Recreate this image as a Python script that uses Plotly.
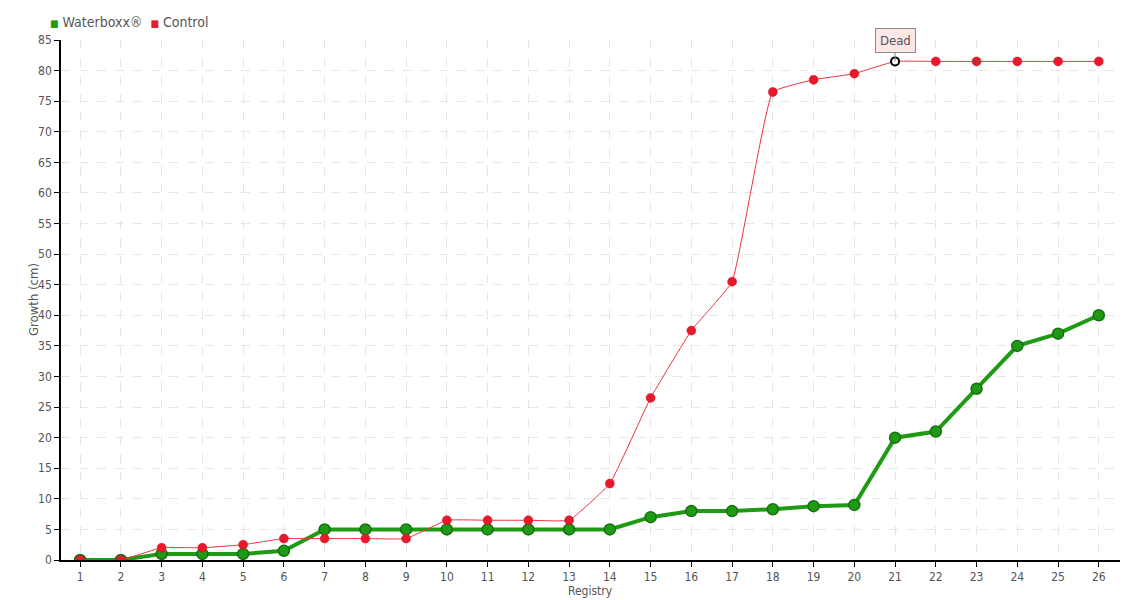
import plotly.graph_objects as go

registry = list(range(1, 27))
waterboxx = [0, 0, 1, 1, 1, 1.5, 5, 5, 5, 5, 5, 5, 5, 5, 7, 8, 8, 8.3, 8.8, 9, 20, 21, 28, 35, 37, 40]
control = [0, 0, 2, 2, 2.5, 3.5, 3.5, 3.5, 3.5, 6.5, 6.5, 6.5, 6.5, 12.5, 26.5, 37.5, 45.5, 76.5, 78.5, 79.5, 81.5, 81.5, 81.5, 81.5, 81.5, 81.5]
series_names = ["Waterboxx®", "Control"]
dead_index = 20

FONT = "DejaVu Sans Condensed"
GREEN = "#1f9a14"
RED = "#e8192c"

fig = go.Figure()
fig.add_trace(go.Scatter(
    x=registry, y=waterboxx, name=series_names[0], mode="lines+markers",
    line=dict(color=GREEN, width=4),
    marker=dict(size=11, color=GREEN, line=dict(color="#17700f", width=1.5)),
))
fig.add_trace(go.Scatter(
    x=registry, y=control, name=series_names[1], mode="lines",
    line=dict(color="#f0323f", width=1, shape="spline", smoothing=0.3),
))
normal_idx = [i for i in range(len(control)) if i != dead_index]
fig.add_trace(go.Scatter(
    x=[registry[i] for i in normal_idx], y=[control[i] for i in normal_idx], mode="markers",
    marker=dict(size=9, color=RED, line=dict(color="#c8101f", width=0.5)), showlegend=False,
))
fig.add_trace(go.Scatter(
    x=[registry[dead_index]], y=[control[dead_index]], mode="markers",
    marker=dict(size=8, color="#ffffff", line=dict(color="#000000", width=2)), showlegend=False,
))
fig.add_annotation(
    x=registry[dead_index], y=control[dead_index], text="Dead",
    showarrow=True, arrowhead=0, arrowwidth=1, arrowcolor="#888",
    ax=0, ay=-21, bgcolor="#fde6e6", bordercolor="#8a8a8a", borderwidth=1, borderpad=4,
    font=dict(family=FONT, size=13, color="#555"),
)
legend_text = (f"<span style='color:{GREEN};font-size:10px'>■</span> {series_names[0]}  "
               f"<span style='color:{RED};font-size:10px'>■</span> {series_names[1]}")
fig.add_annotation(
    xref="paper", yref="paper", x=-0.012, y=1.0, yshift=18, xanchor="left", yanchor="middle",
    text=legend_text, showarrow=False, font=dict(family=FONT, size=14, color="#555"),
)
fig.add_annotation(
    xref="paper", yref="paper", x=0.5, y=0, yshift=-31, xanchor="center", yanchor="middle",
    text="Registry", showarrow=False, borderpad=0, font=dict(family=FONT, size=12, color="#555"),
)
fig.add_annotation(
    xref="paper", yref="paper", x=0, y=0.5, xshift=-28, xanchor="center", yanchor="middle",
    text="Growth (cm)", textangle=-90, showarrow=False, font=dict(family=FONT, size=13, color="#555"),
)

fig.update_layout(
    width=1132, height=592,
    margin=dict(l=53, r=20, t=32, b=40, autoexpand=False),
    paper_bgcolor="white", plot_bgcolor="white",
    font=dict(family=FONT, size=13, color="#555"),
    showlegend=False,
    xaxis=dict(
        range=[0.53, 26.52], tickmode="array", tickvals=registry, ticktext=[str(r) for r in registry],
        showgrid=True, gridcolor="#e6e6e6", griddash="dash", gridwidth=1,
        showline=True, linecolor="black", linewidth=1.5, ticks="outside", ticklen=5, tickcolor="black",
        tickfont=dict(size=12), zeroline=False,
    ),
    yaxis=dict(
        range=[0, 85], dtick=5, tick0=0,
        showgrid=True, gridcolor="#e6e6e6", griddash="dash", gridwidth=1,
        showline=True, linecolor="black", linewidth=1.5, ticks="outside", ticklen=5, tickcolor="black",
        tickfont=dict(size=12), zeroline=False,
    ),
)
fig.write_html("out.html")
